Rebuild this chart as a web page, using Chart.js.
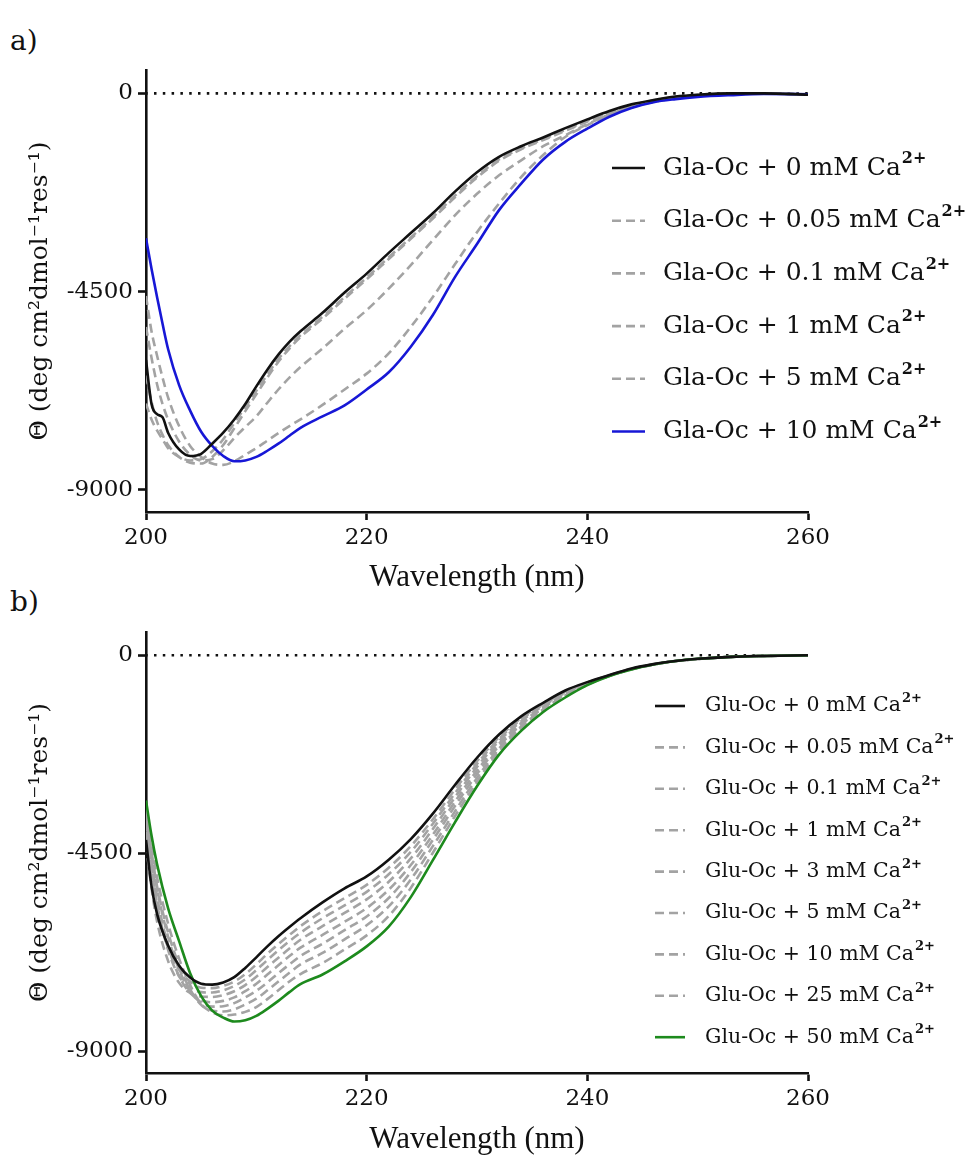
<!DOCTYPE html>
<html>
<head>
<meta charset="utf-8">
<title>CD spectra Gla-Oc / Glu-Oc</title>
<script src="https://cdn.jsdelivr.net/npm/chart.js"></script>
<style>
  body { margin: 0; background: #fff; }
  #wrap { position: relative; width: 979px; height: 1160px; }
  .panel { position: absolute; left: 10px; font-family: 'DejaVu Serif', serif; font-size: 28px; color: #111; }
  canvas { position: absolute; left: 0; }
</style>
</head>
<body>
<div id="wrap">
  <div class="panel" style="top:24px;">a)</div>
  <div class="panel" style="top:585px;">b)</div>
  <canvas id="chartA" width="979" height="600" style="top:0;"></canvas>
  <canvas id="chartB" width="979" height="560" style="top:600px;"></canvas>
</div>

<script>
// ---- data ----
const xTicks = [200, 220, 240, 260];
const yTicks = [-9000, -4500, 0];
const baselineX = [200, 260];
const baselineY = [0, 0];

// panel a) Gla-Oc
const wavelengthA = [200, 200.5, 201, 201.5, 202, 203, 204, 205, 206, 207, 208, 209, 210, 211, 212, 213, 214,
  216, 218, 220, 222, 224, 226, 228, 230, 232, 234, 236, 238, 240, 242, 244, 246, 248, 250, 253, 256, 260];
const glaLabels = ['Gla-Oc + 0 mM Ca²⁺', 'Gla-Oc + 0.05 mM Ca²⁺', 'Gla-Oc + 0.1 mM Ca²⁺',
  'Gla-Oc + 1 mM Ca²⁺', 'Gla-Oc + 5 mM Ca²⁺', 'Gla-Oc + 10 mM Ca²⁺'];
const gla0 = [-6050, -7050, -7280, -7350, -7700, -8080, -8230, -8180, -7950, -7700, -7400, -7050, -6650, -6270, -5930, -5640, -5400,
  -4980, -4520, -4090, -3620, -3170, -2720, -2230, -1790, -1440, -1200, -1000, -790, -590, -400, -250, -150, -70, -30, 0, 0, -30];
const gla005 = [-7040, -7400, -7650, -7850, -8050, -8250, -8330, -8300, -8120, -7850, -7480, -7120, -6750, -6380, -6030, -5740, -5490,
  -5070, -4620, -4180, -3720, -3270, -2810, -2320, -1880, -1500, -1250, -1040, -830, -620, -430, -270, -160, -80, -35, -5, 0, -30];
const gla01 = [-6400, -7000, -7450, -7750, -7980, -8250, -8380, -8400, -8250, -7980, -7600, -7210, -6830, -6450, -6090, -5790, -5530,
  -5110, -4660, -4220, -3760, -3300, -2840, -2360, -1910, -1530, -1270, -1060, -850, -640, -440, -280, -165, -85, -40, -5, 0, -30];
const gla1 = [-5300, -6000, -6600, -7050, -7400, -7900, -8200, -8330, -8300, -8100, -7820, -7570, -7330, -7020, -6720, -6450, -6210,
  -5790, -5340, -4920, -4430, -3900, -3330, -2770, -2280, -1860, -1520, -1200, -950, -700, -480, -320, -190, -110, -60, -20, -5, -20];
const gla5 = [-4600, -5400, -5950, -6450, -6900, -7550, -8000, -8250, -8400, -8430, -8350, -8200, -8050, -7880, -7710, -7550, -7400,
  -7070, -6720, -6360, -5900, -5300, -4620, -3880, -3150, -2500, -1900, -1400, -990, -720, -480, -310, -190, -110, -60, -20, -5, -20];
const gla10 = [-3290, -3980, -4620, -5230, -5800, -6620, -7200, -7680, -8000, -8230, -8350, -8330, -8250, -8110, -7950, -7770, -7590,
  -7330, -7080, -6720, -6330, -5750, -5030, -4170, -3420, -2650, -2050, -1500, -1100, -800, -530, -330, -200, -130, -80, -40, -15, -20];

// panel b) Glu-Oc
const wavelengthB = [200, 200.5, 201, 202, 203, 204, 205, 206, 207, 208, 209, 210, 211, 212, 213, 214,
  216, 218, 220, 222, 224, 226, 228, 230, 232, 234, 236, 238, 240, 242, 244, 246, 248, 250, 253, 256, 260];
const gluLabels = ['Glu-Oc + 0 mM Ca²⁺', 'Glu-Oc + 0.05 mM Ca²⁺', 'Glu-Oc + 0.1 mM Ca²⁺', 'Glu-Oc + 1 mM Ca²⁺',
  'Glu-Oc + 3 mM Ca²⁺', 'Glu-Oc + 5 mM Ca²⁺', 'Glu-Oc + 10 mM Ca²⁺', 'Glu-Oc + 25 mM Ca²⁺', 'Glu-Oc + 50 mM Ca²⁺'];
const glu0 = [-4200, -5250, -5880, -6600, -7060, -7330, -7470, -7490, -7440, -7320, -7110, -6870, -6620, -6390, -6180, -5980,
  -5620, -5300, -5030, -4650, -4180, -3600, -2950, -2330, -1800, -1390, -1080, -800, -610, -450, -300, -200, -130, -80, -35, -15, 0];
const glu005 = [-4000, -5000, -5750, -6650, -7150, -7420, -7560, -7570, -7520, -7420, -7250, -7030, -6790, -6570, -6360, -6160,
  -5820, -5520, -5220, -4830, -4340, -3730, -3050, -2410, -1860, -1430, -1110, -820, -620, -455, -305, -205, -130, -85, -35, -15, 0];
const glu01 = [-3800, -4850, -5650, -6700, -7300, -7560, -7660, -7670, -7620, -7520, -7370, -7160, -6930, -6710, -6500, -6310,
  -5980, -5690, -5380, -4980, -4470, -3830, -3140, -2470, -1900, -1460, -1130, -835, -625, -460, -305, -205, -130, -85, -35, -15, 0];
const glu1 = [-4300, -5300, -6050, -6950, -7450, -7680, -7760, -7770, -7730, -7640, -7500, -7310, -7090, -6880, -6670, -6470,
  -6160, -5860, -5550, -5150, -4620, -3950, -3230, -2540, -1950, -1500, -1150, -855, -635, -460, -310, -205, -130, -85, -35, -15, 0];
const glu3 = [-3700, -4700, -5500, -6600, -7300, -7680, -7850, -7890, -7860, -7780, -7640, -7470, -7260, -7050, -6840, -6650,
  -6360, -6060, -5750, -5330, -4770, -4080, -3330, -2620, -2010, -1540, -1180, -870, -640, -460, -310, -205, -130, -85, -35, -15, 0];
const glu5 = [-3500, -4500, -5300, -6400, -7150, -7650, -7900, -7990, -7980, -7910, -7780, -7630, -7440, -7230, -7030, -6840,
  -6560, -6250, -5940, -5520, -4930, -4200, -3430, -2700, -2060, -1580, -1200, -890, -650, -465, -315, -210, -130, -85, -35, -15, 0];
const glu10 = [-3600, -4500, -5250, -6300, -7050, -7600, -7950, -8080, -8100, -8050, -7940, -7810, -7620, -7420, -7220, -7030,
  -6770, -6460, -6140, -5710, -5100, -4340, -3550, -2790, -2120, -1620, -1230, -910, -660, -465, -315, -210, -130, -85, -35, -15, 0];
const glu25 = [-3400, -4300, -5050, -6100, -6900, -7500, -7930, -8120, -8190, -8170, -8110, -8000, -7820, -7620, -7420, -7250,
  -7000, -6690, -6370, -5930, -5290, -4490, -3660, -2880, -2190, -1670, -1260, -935, -670, -470, -320, -210, -130, -85, -35, -15, 0];
const glu50 = [-3300, -4100, -4750, -5750, -6500, -7230, -7750, -8080, -8240, -8330, -8300, -8200, -8040, -7860, -7660, -7480,
  -7260, -6960, -6620, -6170, -5500, -4660, -3800, -2980, -2260, -1720, -1290, -960, -680, -470, -320, -210, -130, -80, -35, -15, 0];

// ---- styles ----
const SERIF = "'DejaVu Serif', serif";
const solidBlack = { color: '#111', dash: [], order: 0 };
const dashedGray = { color: '#a3a3a3', dash: [9, 5], order: 3 };
const solidBlue = { color: '#1717d6', dash: [], order: 1 };
const solidGreen = { color: '#1d8a1d', dash: [], order: 1 };

function toPoints(xs, ys) {
  return xs.map((x, i) => ({ x: x, y: ys[i] }));
}

// legend drawn inside the plot, like the original figure
const insideLegend = {
  id: 'insideLegend',
  afterDraw(chart, args, opts) {
    const ctx = chart.ctx;
    ctx.save();
    let y = opts.top;
    chart.data.datasets.forEach(ds => {
      if (!ds.label) return;
      ctx.beginPath();
      ctx.setLineDash(ds.borderDash || []);
      ctx.strokeStyle = ds.borderColor;
      ctx.lineWidth = ds.borderWidth;
      ctx.moveTo(opts.lineX, y);
      ctx.lineTo(opts.lineX + opts.lineLen, y);
      ctx.stroke();
      ctx.setLineDash([]);
      const main = ds.label.replace('²⁺', '');
      ctx.fillStyle = '#111';
      ctx.textBaseline = 'middle';
      ctx.font = opts.size + 'px ' + SERIF;
      ctx.fillText(main, opts.textX, y);
      const w = ctx.measureText(main).width;
      ctx.font = 'bold ' + Math.round(opts.size * 0.62) + 'px ' + SERIF;
      ctx.fillText('2+', opts.textX + w + 1, y - opts.size * 0.36);
      y += opts.gap;
    });
    ctx.restore();
  }
};

function makeChart(id, wl, series, labels, styles, top, xAxisH, titlePad, legend) {
  const datasets = series.map((vals, i) => ({
    label: labels[i],
    data: toPoints(wl, vals),
    borderColor: styles[i].color,
    borderDash: styles[i].dash,
    borderWidth: 2.6,
    order: styles[i].order,
    pointRadius: 0,
    cubicInterpolationMode: 'monotone',
    fill: false
  }));
  datasets.push({
    label: '',
    data: toPoints(baselineX, baselineY),
    borderColor: '#111',
    borderDash: [2.5, 6.3],
    borderDashOffset: -8,
    borderWidth: 2.6,
    pointRadius: 0,
    order: 4
  });

  return new Chart(document.getElementById(id), {
    type: 'line',
    data: { datasets: datasets },
    plugins: [insideLegend],
    options: {
      responsive: false,
      animation: false,
      layout: { padding: { left: 0, right: 171, top: top, bottom: 0 } },
      plugins: {
        legend: { display: false },
        tooltip: { enabled: false },
        insideLegend: legend
      },
      scales: {
        x: {
          type: 'linear',
          min: xTicks[0],
          max: xTicks[xTicks.length - 1],
          afterBuildTicks: s => { s.ticks = xTicks.map(v => ({ value: v })); },
          afterFit: s => { s.height = xAxisH; },
          border: { color: '#111', width: 2.6 },
          grid: { drawOnChartArea: false, tickLength: 8, tickWidth: 2.6, tickColor: '#111' },
          ticks: { color: '#111', padding: 4, maxRotation: 0, font: { family: SERIF, size: 23 } },
          title: {
            display: true,
            text: 'Wavelength (nm)',
            color: '#111',
            font: { family: "'Liberation Serif', serif", size: 31 },
            padding: { top: 0, bottom: titlePad }
          }
        },
        y: {
          min: -9500,
          max: 530,
          afterBuildTicks: s => { s.ticks = yTicks.map(v => ({ value: v })); },
          afterFit: s => { s.width = 146; },
          border: { color: '#111', width: 2.6 },
          grid: { drawOnChartArea: false, tickLength: 8, tickWidth: 2.6, tickColor: '#111' },
          ticks: { color: '#111', padding: 5, font: { family: SERIF, size: 23 }, callback: v => String(v) },
          title: {
            display: true,
            text: 'Θ (deg cm²dmol⁻¹res⁻¹)',
            color: '#111',
            font: { family: SERIF, size: 25 },
            padding: { top: 25, bottom: 0 }
          }
        }
      }
    }
  });
}

makeChart('chartA', wavelengthA,
  [gla0, gla005, gla01, gla1, gla5, gla10], glaLabels,
  [solidBlack, dashedGray, dashedGray, dashedGray, dashedGray, solidBlue],
  70, 88, 3.4,
  { top: 168, gap: 52.7, lineX: 612, lineLen: 33, textX: 663, size: 25 });

makeChart('chartB', wavelengthB,
  [glu0, glu005, glu01, glu1, glu3, glu5, glu10, glu25, glu50], gluLabels,
  [solidBlack, dashedGray, dashedGray, dashedGray, dashedGray, dashedGray, dashedGray, dashedGray, solidGreen],
  32, 87, 1.4,
  { top: 106, gap: 41.4, lineX: 655, lineLen: 30, textX: 705, size: 20.5 });
</script>
</body>
</html>
